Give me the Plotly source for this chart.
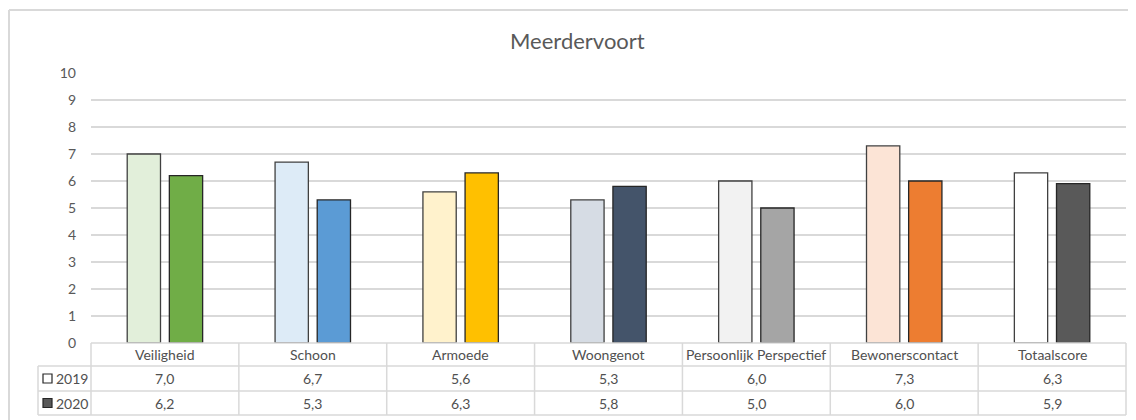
import plotly.graph_objects as go

categories = ["Veiligheid", "Schoon", "Armoede", "Woongenot",
              "Persoonlijk Perspectief", "Bewonerscontact", "Totaalscore"]
series_names = ["2019", "2020"]
values_2019 = [7.0, 6.7, 5.6, 5.3, 6.0, 7.3, 6.3]
values_2020 = [6.2, 5.3, 6.3, 5.8, 5.0, 6.0, 5.9]
colors_2019 = ["#E2EFDA", "#DDEBF7", "#FFF2CC", "#D6DCE4", "#F2F2F2", "#FCE4D6", "#FFFFFF"]
colors_2020 = ["#70AD47", "#5B9BD5", "#FFC000", "#44546A", "#A5A5A5", "#ED7D31", "#595959"]
y_ticks = [0, 1, 2, 3, 4, 5, 6, 7, 8, 9, 10]
title = "Meerdervoort"

OFF = 8  # page body margin
W, H = 1136 - OFF, 420 - OFF
L, R, T, B = 91 - OFF, 1126 - OFF, 73 - OFF, 343 - OFF  # plot area in figure pixels
FONT = "Lato, 'Open Sans', sans-serif"
TXT = "#505050"
GRID = "#D9D9D9"

def px(xp):
    # xp given in screenshot pixels
    return (xp - OFF - L) / (R - L)

def py(yp):
    return (B - (yp - OFF)) / (B - T)

fig = go.Figure()
fig.add_trace(go.Bar(x=categories, y=values_2019, name=series_names[0],
                     marker=dict(color=colors_2019, line=dict(color="#404040", width=1.3))))
fig.add_trace(go.Bar(x=categories, y=values_2020, name=series_names[1],
                     marker=dict(color=colors_2020, line=dict(color="#262626", width=1.3))))

shapes = []
annotations = []
n = len(categories)
SL, SR = 91, 1126
col_w = (SR - SL) / n
row_y = [343, 366, 391, 415]
leg_x0 = 38

# outer frame (top and left)
shapes.append(dict(type="line", xref="paper", yref="paper", x0=px(9), x1=px(1150),
                   y0=py(10), y1=py(10), line=dict(color=GRID, width=2)))
shapes.append(dict(type="line", xref="paper", yref="paper", x0=px(9), x1=px(9),
                   y0=py(10), y1=py(430), line=dict(color=GRID, width=2)))

# table horizontal lines
shapes.append(dict(type="line", xref="paper", yref="paper", x0=px(SL), x1=px(SR),
                   y0=py(row_y[0]), y1=py(row_y[0]), line=dict(color=GRID, width=1.5)))
for ry in row_y[1:]:
    shapes.append(dict(type="line", xref="paper", yref="paper", x0=px(leg_x0), x1=px(SR),
                       y0=py(ry), y1=py(ry), line=dict(color=GRID, width=1.5)))
# table vertical lines
for i in range(n + 1):
    xv = SL + i * col_w
    shapes.append(dict(type="line", xref="paper", yref="paper", x0=px(xv), x1=px(xv),
                       y0=py(row_y[0]), y1=py(row_y[3]), line=dict(color=GRID, width=1.5)))
shapes.append(dict(type="line", xref="paper", yref="paper", x0=px(leg_x0), x1=px(leg_x0),
                   y0=py(row_y[1]), y1=py(row_y[3]), line=dict(color=GRID, width=1.5)))

# table text
for i, cat in enumerate(categories):
    xc = px(SL + (i + 0.5) * col_w)
    annotations.append(dict(x=xc, y=py((row_y[0] + row_y[1]) / 2), xref="paper", yref="paper",
                            xanchor="center", yanchor="middle",
                            text=cat, showarrow=False, font=dict(size=14, color=TXT, family=FONT)))
    for r, vals in enumerate([values_2019, values_2020]):
        annotations.append(dict(x=xc, y=py((row_y[r + 1] + row_y[r + 2]) / 2), xref="paper", yref="paper",
                                xanchor="center", yanchor="middle",
                                text=f"{vals[i]:.1f}".replace(".", ","), showarrow=False,
                                font=dict(size=14, color=TXT, family=FONT)))

# legend keys in table
key_fill = [colors_2019[-1], colors_2020[-1]]
for r, name in enumerate(series_names):
    yc = (row_y[r + 1] + row_y[r + 2]) / 2
    shapes.append(dict(type="rect", xref="paper", yref="paper", x0=px(43), x1=px(52),
                       y0=py(yc + 4.5), y1=py(yc - 4.5), fillcolor=key_fill[r],
                       line=dict(color="#262626", width=1.2)))
    annotations.append(dict(x=px(54), y=py(yc), xref="paper", yref="paper",
                            xanchor="left", yanchor="middle",
                            text=name, showarrow=False, font=dict(size=14, color=TXT, family=FONT)))

annotations.append(dict(x=px(577), y=py(40), xref="paper", yref="paper", text=title,
                        xanchor="center", yanchor="middle",
                        showarrow=False, font=dict(size=22, color="#595959", family=FONT)))

fig.update_layout(
    width=W, height=H,
    margin=dict(l=L, r=W - R, t=T, b=H - B, pad=0),
    paper_bgcolor="white", plot_bgcolor="white",
    barmode="group", bargap=0.43, bargroupgap=0.21,
    showlegend=False,
    shapes=shapes, annotations=annotations,
    font=dict(family=FONT, color=TXT),
)
fig.update_xaxes(showticklabels=False, showgrid=False, zeroline=False, showline=False,
                 range=[-0.5, n - 0.5])
fig.update_yaxes(range=[0, 10], tickvals=y_ticks, showgrid=True, gridcolor=GRID, gridwidth=1.5,
                 zeroline=False, showline=False, ticks="", ticklabelstandoff=14,
                 tickfont=dict(size=14, color="#595959", family=FONT))

fig.write_html("out.html")
